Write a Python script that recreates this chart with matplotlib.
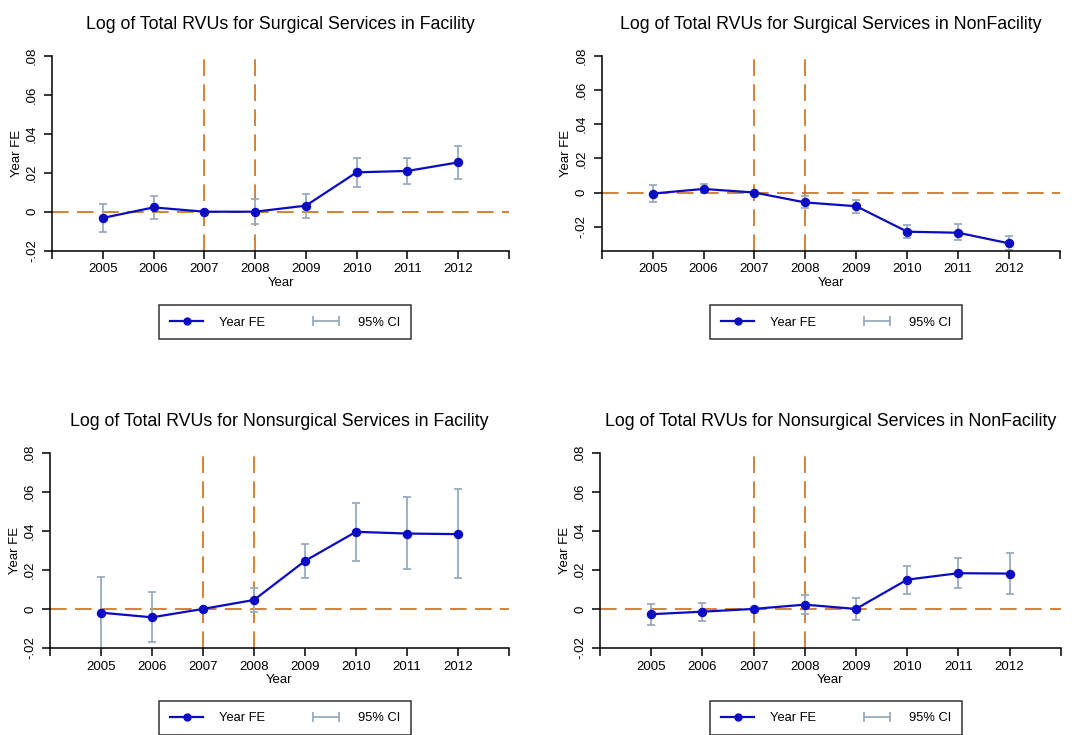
import numpy as np
import matplotlib
matplotlib.use("Agg")
import matplotlib.pyplot as plt
from matplotlib.lines import Line2D
from matplotlib.legend_handler import HandlerLine2D
from matplotlib.ticker import FuncFormatter

plt.rcParams["font.family"] = ["Liberation Sans", "DejaVu Sans"]

years = [2005, 2006, 2007, 2008, 2009, 2010, 2011, 2012]

titles = [
    "Log of Total RVUs for Surgical Services in Facility",
    "Log of Total RVUs for Surgical Services in NonFacility",
    "Log of Total RVUs for Nonsurgical Services in Facility",
    "Log of Total RVUs for Nonsurgical Services in NonFacility",
]

# coefficients and 95% CI bounds (2007 is the reference year -> no CI)
surg_fac = [-0.0032, 0.0022, 0.0, 0.0, 0.0031, 0.0202, 0.0209, 0.0253]
surg_fac_lo = [-0.0103, -0.0038, np.nan, -0.0065, -0.0031, 0.0126, 0.0142, 0.0168]
surg_fac_hi = [0.0038, 0.0082, np.nan, 0.0063, 0.0091, 0.0277, 0.0274, 0.0337]

surg_nonfac = [-0.0006, 0.0021, 0.0, -0.0058, -0.0080, -0.0229, -0.0235, -0.0297]
surg_nonfac_lo = [-0.0058, -0.0001, np.nan, -0.0091, -0.0122, -0.0266, -0.0280, -0.0338]
surg_nonfac_hi = [0.0045, 0.0049, np.nan, -0.0021, -0.0043, -0.0190, -0.0186, -0.0254]

nonsurg_fac = [-0.0019, -0.0043, 0.0, 0.0046, 0.0246, 0.0395, 0.0386, 0.0383]
nonsurg_fac_lo = [-0.0205, -0.0171, np.nan, -0.0014, 0.0159, 0.0248, 0.0203, 0.0157]
nonsurg_fac_hi = [0.0162, 0.0085, np.nan, 0.0106, 0.0333, 0.0542, 0.0571, 0.0612]

nonsurg_nonfac = [-0.0027, -0.0014, 0.0, 0.0022, 0.0, 0.0150, 0.0183, 0.0181]
nonsurg_nonfac_lo = [-0.0084, -0.0062, np.nan, -0.0024, -0.0056, 0.0079, 0.0106, 0.0075]
nonsurg_nonfac_hi = [0.0027, 0.0032, np.nan, 0.0070, 0.0058, 0.0222, 0.0260, 0.0285]

panels = [
    (surg_fac, surg_fac_lo, surg_fac_hi, -0.02),
    (surg_nonfac, surg_nonfac_lo, surg_nonfac_hi, -0.034),
    (nonsurg_fac, nonsurg_fac_lo, nonsurg_fac_hi, -0.02),
    (nonsurg_nonfac, nonsurg_nonfac_lo, nonsurg_nonfac_hi, -0.02),
]

BLUE = "#0b0bc4"
ORANGE = "#cf6c14"
CI_COLOR = "#9aabc0"

W, H = 1072, 735
# axes rects in pixels: left, top, right, bottom
rects_px = [
    (52, 55.7, 509, 250.7),
    (601.7, 55.7, 1060, 250.7),
    (50, 452.7, 509, 648),
    (600, 452.7, 1060.7, 648),
]
legend_centers_px = [(285, 322.5), (836, 322.5), (285, 718), (836, 718)]


def yfmt(v, pos):
    if abs(v) < 1e-9:
        return "0"
    return f"{v:.2f}".replace("0.", ".", 1)


fig = plt.figure(figsize=(W / 100, H / 100), dpi=100)

for (coef, lo, hi, ymin), title, (l, t, r, b), (lx, ly) in zip(
    panels, titles, rects_px, legend_centers_px
):
    ax = fig.add_axes([l / W, 1 - b / H, (r - l) / W, (b - t) / H])
    yrs = np.array(years)
    coef = np.array(coef)
    lo = np.array(lo)
    hi = np.array(hi)
    m = ~np.isnan(lo)

    ax.axhline(0, color=ORANGE, lw=1.2, dashes=(10, 5), zorder=1)
    for xv in (2007, 2008):
        ax.axvline(xv, color=ORANGE, lw=1.2, dashes=(10, 5), zorder=1)

    ax.errorbar(
        yrs[m], coef[m],
        yerr=[coef[m] - lo[m], hi[m] - coef[m]],
        fmt="none", ecolor=CI_COLOR, elinewidth=1.3, capsize=3.2, capthick=1.3, zorder=2,
    )
    ax.plot(yrs, coef, color=BLUE, lw=1.6, marker="o", markersize=5.8, zorder=3)

    ax.set_xlim(2004, 2013)
    ax.set_ylim(ymin, 0.08)
    ax.set_xticks(range(2004, 2014))
    ax.set_xticklabels([""] + [str(y) for y in years] + [""])
    ax.set_yticks([-0.02, 0, 0.02, 0.04, 0.06, 0.08])
    ax.yaxis.set_major_formatter(FuncFormatter(yfmt))

    for s in ("top", "right"):
        ax.spines[s].set_visible(False)
    for s in ("left", "bottom"):
        ax.spines[s].set_linewidth(1.1)

    ax.tick_params(axis="both", direction="out", length=6, width=1.1, labelsize=9.5)
    ax.tick_params(axis="x", pad=3)
    ax.tick_params(axis="y", pad=4, labelrotation=90)
    for lab in ax.get_yticklabels():
        lab.set_va("center")

    ax.set_xlabel("Year", fontsize=9.5, labelpad=1)
    ax.set_ylabel("Year FE", fontsize=9.5)
    ax.yaxis.set_label_coords(-0.064, 0.5)
    ax.set_title(title, fontsize=12.8, pad=19)

    h_fe = Line2D([], [], color=BLUE, lw=1.6, marker="o", markersize=5)
    h_ci = Line2D([], [], color=CI_COLOR, lw=1.3, marker="|", markersize=7, markeredgewidth=1.3)
    leg = fig.legend(
        [h_fe, h_ci], ["Year FE", "95% CI"],
        loc="center", bbox_to_anchor=(lx / W, 1 - ly / H),
        ncol=2, fontsize=9.3, numpoints=1,
        handler_map={h_ci: HandlerLine2D(numpoints=2)},
        handlelength=2.6, handletextpad=1.2, columnspacing=3.4,
        borderpad=0.85, fancybox=False, framealpha=1,
    )
    leg.get_frame().set_edgecolor("#333333")
    leg.get_frame().set_linewidth(1.1)

fig.savefig("out.png", dpi=100)
